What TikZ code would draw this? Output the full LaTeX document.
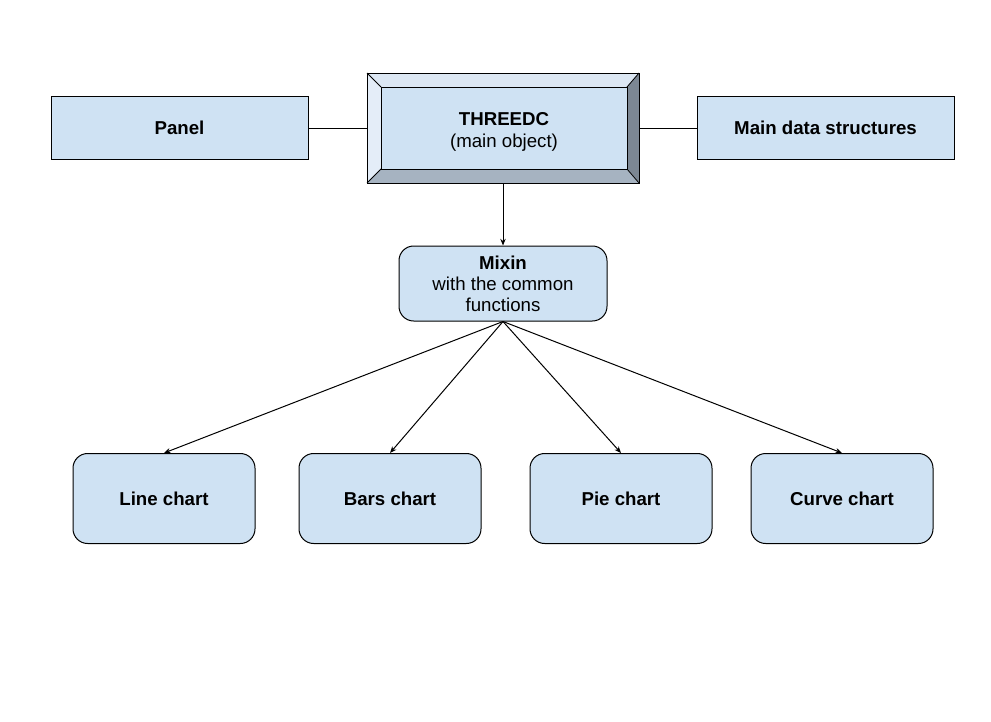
\documentclass[tikz,border=0pt]{standalone}
\usepackage{fontspec}
\setmainfont{Liberation Sans}
\usetikzlibrary{arrows.meta}
\definecolor{boxblue}{HTML}{CFE2F3}
\definecolor{bvtop}{HTML}{DCE7F3}
\definecolor{bvleft}{HTML}{E4EDF8}
\definecolor{bvright}{HTML}{7C8793}
\definecolor{bvbottom}{HTML}{A6B3C1}
\tikzset{
    box/.style={draw,fill=boxblue,rectangle,line width=0.75pt,align=center,font=\fontsize{14}{15.75}\selectfont},
    chart/.style={box,rounded corners=11pt,minimum width=136.5pt,minimum height=67.5pt},
    link/.style={line width=0.75pt},
    arr/.style={link,-{Stealth[length=5pt,width=4pt]}}
}
\begin{document}
\begin{tikzpicture}[x=0.75pt,y=-0.75pt]
        \useasboundingbox (0,0) rectangle (991,721);
        %% main object (bevel)
        \fill[bvtop] (367,73) -- (639,73) -- (627,87) -- (381,87) -- cycle;
        \fill[bvleft] (367,73) -- (381,87) -- (381,169) -- (367,183) -- cycle;
        \fill[bvright] (639,73) -- (639,183) -- (627,169) -- (627,87) -- cycle;
        \fill[bvbottom] (367,183) -- (381,169) -- (627,169) -- (639,183) -- cycle;
        \draw[line width=0.75pt,fill=boxblue] (381,87) rectangle (627,169);
        \draw[line width=0.6pt] (367,73) -- (381,87) (639,73) -- (627,87)
            (367,183) -- (381,169) (639,183) -- (627,169);
        \node[draw,rectangle,line width=0.75pt,minimum width=204pt,minimum height=82.5pt] (T) at (503,128) {};
        \node[align=center,font=\fontsize{14}{16.5}\selectfont] (Tt) at (504,132) {\textbf{THREEDC}\\(main object)};
        %% side boxes
        \node[box,minimum width=192.75pt,minimum height=47.25pt] (P) at (179.5,128) {\textbf{Panel}};
        \node[box,minimum width=192.75pt,minimum height=47.25pt] (D) at (825.5,128) {\textbf{Main data structures}};
        \draw[link] (P) -- (T);
        \draw[link] (D) -- (T);
        %% mixin
        \node[box,rounded corners=11pt,minimum width=156pt,minimum height=56.25pt] (X) at (503,283.5) {\textbf{Mixin}\\with the common\\functions};
        \draw[arr] (T.south) -- (T.south |- X.north);
        %% charts
        \node[chart] (L) at (164,498.5) {\textbf{Line chart}};
        \node[chart] (B) at (390,498.5) {\textbf{Bars chart}};
        \node[chart] (I) at (621,498.5) {\textbf{Pie chart}};
        \node[chart] (C) at (842,498.5) {\textbf{Curve chart}};
        \foreach \k in {L,B,I,C}
            \draw[arr] (X.south) -- (\k.north);
    \end{tikzpicture}
\end{document}
